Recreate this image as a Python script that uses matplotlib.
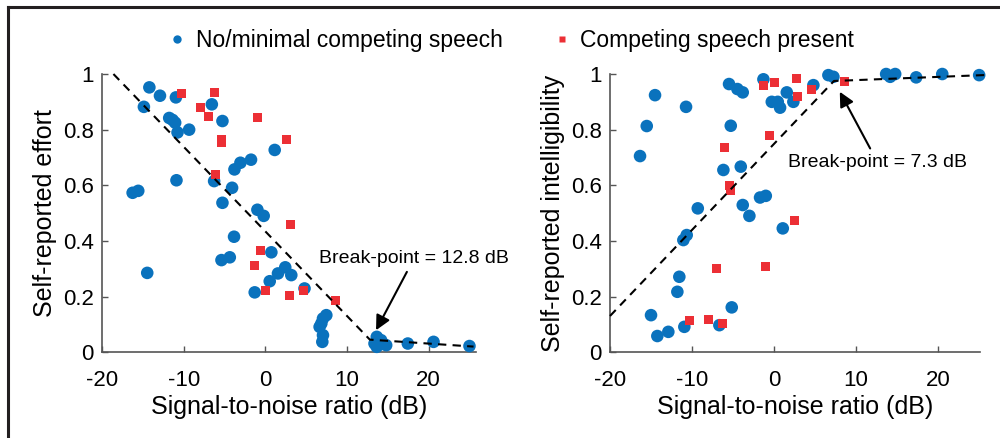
import matplotlib.pyplot as plt
from matplotlib.lines import Line2D

plt.rcParams['font.family'] = ['Liberation Sans', 'DejaVu Sans']
plt.rcParams['axes.unicode_minus'] = False

# ---- left panel: self-reported effort ----
effort_blue_x = [-14.2, -12.9, -10.95, -14.87, -6.55, -11.77, -11.36, -11.04, -5.25, -10.75,
                 -9.33, 1.15, -1.75, -3.05, -3.78, -10.88, -6.27, -4.07, -16.25, -15.56,
                 -5.25, -0.97, -0.2, -3.83, -5.37, -4.35, 0.74, -14.46, 2.44, 1.55,
                 3.18, 0.54, -1.3, 4.8, 7.47, 7.06, 6.86, 6.65, 7.06, 6.98,
                 13.65, 14.18, 14.8, 13.65, 13.37, 17.45, 20.6, 25.0]
effort_blue_y = [0.952, 0.922, 0.916, 0.882, 0.891, 0.842, 0.835, 0.825, 0.831, 0.790,
                 0.800, 0.727, 0.692, 0.681, 0.657, 0.618, 0.615, 0.591, 0.573, 0.580,
                 0.537, 0.512, 0.490, 0.415, 0.331, 0.341, 0.359, 0.285, 0.305, 0.283,
                 0.277, 0.255, 0.215, 0.229, 0.133, 0.121, 0.103, 0.091, 0.061, 0.037,
                 0.055, 0.043, 0.025, 0.019, 0.031, 0.031, 0.037, 0.022]
effort_red_x = [-10.26, -6.27, -7.9, -7.0, -0.97, -5.38, -5.38, 2.58, -6.06, 3.1,
                -0.6, -1.3, 0.05, 2.98, 4.73, 8.6]
effort_red_y = [0.930, 0.933, 0.879, 0.849, 0.844, 0.765, 0.754, 0.766, 0.637, 0.460,
                0.367, 0.310, 0.223, 0.205, 0.220, 0.185]
effort_fit_x = [-18.6, 12.8, 25.5]
effort_fit_y = [1.0, 0.045, 0.02]

# ---- right panel: self-reported intelligibility ----
intel_blue_x = [-14.51, -10.73, -15.52, -16.34, -5.49, -4.47, -3.82, -5.28, -1.3, 1.55,
                -0.28, 0.45, 0.73, 2.35, -6.18, -4.06, -9.3, -3.82, -3.01, -1.71,
                -1.01, 1.06, -11.06, -10.65, -11.55, -11.79, -15.0, -14.23, -12.89, -10.94,
                -6.67, -5.16, 4.79, 6.62, 7.23, 13.66, 14.15, 14.76, 17.32, 20.5, 25.0]
intel_blue_y = [0.924, 0.882, 0.813, 0.705, 0.964, 0.946, 0.934, 0.814, 0.981, 0.934,
                0.900, 0.900, 0.879, 0.900, 0.655, 0.667, 0.517, 0.529, 0.490, 0.556,
                0.562, 0.445, 0.403, 0.421, 0.271, 0.217, 0.133, 0.058, 0.073, 0.091,
                0.097, 0.161, 0.960, 0.996, 0.990, 1.0, 0.990, 1.0, 0.988, 1.0, 0.996]
intel_red_x = [-1.3, 0.0, 2.77, 2.89, -0.61, -6.06, -5.45, -5.37, 2.48, -7.07,
               -1.01, -10.33, -8.01, -6.26, 4.6, 8.57]
intel_red_y = [0.960, 0.970, 0.984, 0.918, 0.778, 0.736, 0.598, 0.583, 0.472, 0.301,
               0.307, 0.113, 0.119, 0.103, 0.945, 0.972]
intel_fit_x = [-20, 7.3, 26.3]
intel_fit_y = [0.13, 0.975, 0.997]

blue = '#0a72bd'
red = '#ec2f35'

fig = plt.figure(figsize=(10, 4.38), dpi=100)
ax1 = fig.add_axes([0.102, 0.196, 0.374, 0.635])
ax2 = fig.add_axes([0.610, 0.196, 0.370, 0.635])


def panel(ax, bx, by, rx, ry, fx, fy, xmax, ylabel):
    ax.scatter(bx, by, s=82, color=blue, edgecolors='none', clip_on=False, zorder=3)
    ax.scatter(rx, ry, s=42, marker='s', color=red, edgecolors='none', clip_on=False, zorder=4)
    ax.plot(fx, fy, color='black', lw=1.5, dashes=(4, 3), clip_on=False, zorder=5)
    ax.set_xlim(-20, xmax)
    ax.set_ylim(0, 1)
    ax.set_xticks([-20, -10, 0, 10, 20])
    ax.set_yticks([0, 0.2, 0.4, 0.6, 0.8, 1])
    ax.set_yticklabels(['0', '0.2', '0.4', '0.6', '0.8', '1'])
    ax.tick_params(direction='in', length=4, width=1, color='#555555', labelsize=16)
    ax.tick_params(axis='x', pad=13)
    ax.tick_params(axis='y', pad=6)
    for s in ['top', 'right']:
        ax.spines[s].set_visible(False)
    for s in ['left', 'bottom']:
        ax.spines[s].set_color('#555555')
        ax.spines[s].set_linewidth(1.2)
    ax.set_xlabel('Signal-to-noise ratio (dB)', fontsize=18, labelpad=3)
    ax.set_ylabel(ylabel, fontsize=18, labelpad=4)


panel(ax1, effort_blue_x, effort_blue_y, effort_red_x, effort_red_y,
      effort_fit_x, effort_fit_y, 25.8, 'Self-reported effort')
panel(ax2, intel_blue_x, intel_blue_y, intel_red_x, intel_red_y,
      intel_fit_x, intel_fit_y, 25.1, 'Self-reported intelligibility')

arrow = dict(arrowstyle='-|>', color='black', lw=1.5, mutation_scale=22)
ax1.annotate('Break-point = 12.8 dB', xy=(13.4, 0.07), xytext=(6.6, 0.338),
             fontsize=14, va='center', ha='left', arrowprops=arrow, zorder=6)
ax2.annotate('Break-point = 7.3 dB', xy=(7.85, 0.945), xytext=(1.7, 0.683),
             fontsize=14, va='center', ha='left', arrowprops=arrow, zorder=6)

handles = [Line2D([], [], ls='none', marker='o', ms=6, color=blue, mec='none'),
           Line2D([], [], ls='none', marker='s', ms=5, color=red, mec='none')]
fig.legend(handles, ['No/minimal competing speech', 'Competing speech present'],
           loc='center', bbox_to_anchor=(0.511, 0.907), ncol=2, frameon=False,
           fontsize=16.5, handlelength=0.8, handletextpad=0.4, columnspacing=2.17)

# figure frame: top and left edges
fig.add_artist(Line2D([0.008, 1.0], [1 - 6.5 / 438, 1 - 6.5 / 438], color='#231f20', lw=2.2))
fig.add_artist(Line2D([0.008, 0.008], [0, 1 - 6.5 / 438], color='#231f20', lw=2.2))

fig.savefig('out.png', dpi=100)
